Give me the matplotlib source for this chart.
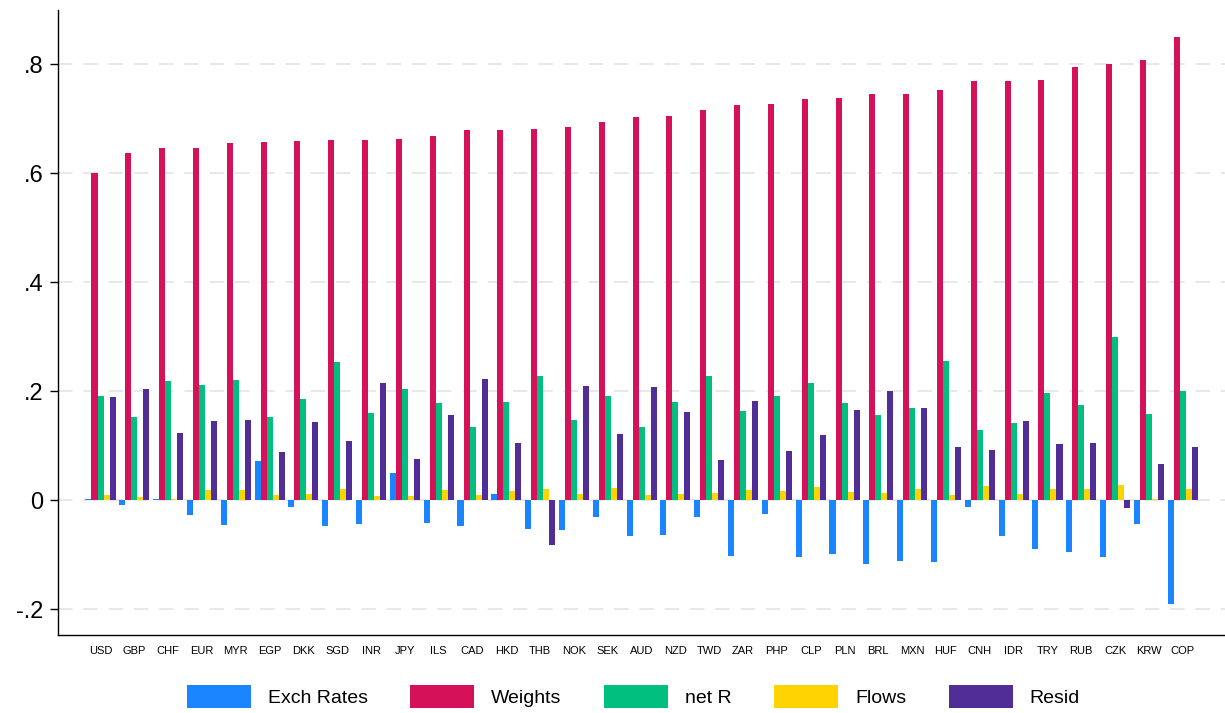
import numpy as np
import matplotlib
matplotlib.use("Agg")
import matplotlib.pyplot as plt
from matplotlib.ticker import FixedLocator

plt.rcParams['font.family'] = ['Liberation Sans', 'DejaVu Sans']

currencies = ["USD", "GBP", "CHF", "EUR", "MYR", "EGP", "DKK", "SGD", "INR", "JPY", "ILS",
              "CAD", "HKD", "THB", "NOK", "SEK", "AUD", "NZD", "TWD", "ZAR", "PHP", "CLP",
              "PLN", "BRL", "MXN", "HUF", "CNH", "IDR", "TRY", "RUB", "CZK", "KRW", "COP"]

exch_rates = [0.003, -0.008, 0.003, -0.028, -0.045, 0.072, -0.013, -0.047, -0.043, 0.050, -0.041,
              -0.048, 0.012, -0.052, -0.054, -0.030, -0.065, -0.063, -0.030, -0.102, -0.026, -0.105,
              -0.098, -0.118, -0.111, -0.113, -0.013, -0.065, -0.089, -0.096, -0.104, -0.043, -0.191]
weights = [0.601, 0.638, 0.646, 0.647, 0.655, 0.658, 0.660, 0.662, 0.662, 0.664, 0.669,
           0.679, 0.680, 0.682, 0.686, 0.695, 0.704, 0.706, 0.717, 0.726, 0.728, 0.737,
           0.739, 0.745, 0.745, 0.754, 0.769, 0.769, 0.771, 0.796, 0.800, 0.809, 0.851]
net_r = [0.191, 0.152, 0.218, 0.211, 0.220, 0.152, 0.185, 0.254, 0.160, 0.205, 0.179,
         0.135, 0.181, 0.228, 0.147, 0.191, 0.134, 0.180, 0.228, 0.164, 0.191, 0.216,
         0.178, 0.156, 0.170, 0.255, 0.129, 0.142, 0.196, 0.175, 0.300, 0.158, 0.200]
flows = [0.010, 0.005, 0.003, 0.018, 0.018, 0.010, 0.012, 0.020, 0.007, 0.007, 0.018,
         0.010, 0.016, 0.021, 0.011, 0.023, 0.009, 0.012, 0.014, 0.018, 0.016, 0.024,
         0.015, 0.014, 0.021, 0.010, 0.026, 0.012, 0.021, 0.020, 0.027, 0.003, 0.020]
resid = [0.189, 0.205, 0.123, 0.145, 0.147, 0.088, 0.143, 0.108, 0.216, 0.075, 0.156,
         0.222, 0.105, -0.083, 0.210, 0.121, 0.208, 0.162, 0.073, 0.183, 0.090, 0.120,
         0.165, 0.200, 0.170, 0.097, 0.092, 0.145, 0.104, 0.105, -0.015, 0.067, 0.097]

series = [("Exch Rates", exch_rates, "#1a85ff"),
          ("Weights", weights, "#d41159"),
          ("net R", net_r, "#00bf7f"),
          ("Flows", flows, "#ffd300"),
          ("Resid", resid, "#512d98")]

fig = plt.figure(figsize=(12.25, 7.13), dpi=100)
ax = fig.add_axes([0.047, 0.109, 0.953, 0.877])

x = np.arange(len(currencies))
w = 0.178
for i, (name, vals, col) in enumerate(series):
    ax.bar(x + (i - 2) * w, vals, width=w, color=col, label=name, zorder=3, linewidth=0)

ax.set_xlim(-1.27, 33.25)
ax.set_ylim(-0.248, 0.9)
yt = [-0.2, 0, 0.2, 0.4, 0.6, 0.8]
ax.yaxis.set_major_locator(FixedLocator(yt))
ax.set_yticklabels(["-.2", "0", ".2", ".4", ".6", ".8"], fontsize=17)
ax.set_xticks(x)
ax.set_xticklabels(currencies, fontsize=8)
ax.tick_params(axis='x', length=0, pad=8)
ax.tick_params(axis='y', length=6, width=1, pad=4)
for yv in yt:
    ax.axhline(yv, color="#e6e6e6", lw=1.3, dashes=(8, 6), zorder=1)

ax.spines['top'].set_visible(False)
ax.spines['right'].set_visible(False)
ax.spines['left'].set_linewidth(1)
ax.spines['bottom'].set_linewidth(1)

fig.legend(loc='lower center', bbox_to_anchor=(0.517, -0.018), ncol=5, frameon=False,
           fontsize=14, handlelength=3.3, handleheight=1.5, handletextpad=0.85,
           columnspacing=2.2)

fig.savefig("out.png", dpi=100)
